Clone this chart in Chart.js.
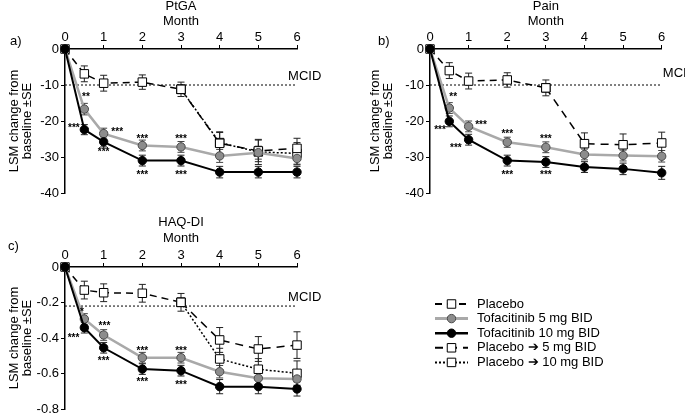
<!DOCTYPE html>
<html lang="en">
<head>
<meta charset="UTF-8" />
<title>PtGA, Pain and HAQ-DI – LSM change from baseline</title>
<script src="https://cdn.jsdelivr.net/npm/chart.js"></script>
<style>
  body { margin: 0; background: #fff; width: 685px; height: 416px; position: relative; overflow: hidden; }
  canvas { position: absolute; }
  #ptga { left: 0; top: 0; }
  #pain { left: 345px; top: 0; }
  #haq { left: 0; top: 205px; }
</style>
</head>
<body>
<canvas id="ptga" width="340" height="205"></canvas>
<canvas id="pain" width="340" height="205"></canvas>
<canvas id="haq" width="685" height="211"></canvas>
<script>
  // months on the x axis
  const months = [0, 0.5, 1, 2, 3, 4, 5, 6];

  // a) PtGA
  const ptgaPlacebo    = [0, -6.9, -9.5, -9.2, -11.2, null, null, null];
  const ptgaPlaceboSe  = [0, 2.2, 2.2, 2.0, 2.0, null, null, null];
  const ptgaPbo5       = [null, null, null, null, -11.2, -26.2, -28.3, -27.6];
  const ptgaPbo5Se     = [null, null, null, null, 0, 3.0, 3.0, 2.8];
  const ptgaPbo10      = [null, null, null, null, -11.2, -26.0, -28.6, -29.0];
  const ptgaPbo10Se    = [null, null, null, null, 0, 3.0, 3.5, 3.0];
  const ptgaTofa5      = [0, -16.7, -23.5, -26.8, -27.2, -29.7, -28.8, -30.4];
  const ptgaTofa5Se    = [0, 1.6, 1.5, 1.5, 1.5, 1.8, 1.8, 1.8];
  const ptgaTofa10     = [0, -22.4, -25.8, -31.0, -31.0, -34.2, -34.2, -34.2];
  const ptgaTofa10Se   = [0, 1.4, 1.4, 1.5, 1.5, 1.6, 1.6, 1.6];
  const ptgaStars = [[0.54, -12.8, '**'], [0.23, -21.3, '***'], [1.35, -22.4, '***'], [1.0, -28, '***'],
                     [2, -24.5, '***'], [3, -24.5, '***'], [2, -34.5, '***'], [3, -34.5, '***']];

  // b) Pain
  const painPlacebo    = [0, -6.0, -8.9, -8.6, -10.8, null, null, null];
  const painPlaceboSe  = [0, 2.2, 2.2, 2.0, 2.2, null, null, null];
  const painPbo5       = [null, null, null, null, -10.8, -26.3, -26.6, -26.1];
  const painPbo5Se     = [null, null, null, null, 0, 3.0, 3.0, 3.0];
  const painTofa5      = [0, -16.4, -21.5, -25.9, -27.3, -29.3, -29.6, -29.8];
  const painTofa5Se    = [0, 1.5, 1.5, 1.4, 1.5, 1.5, 1.5, 1.6];
  const painTofa10     = [0, -20.1, -25.2, -31.0, -31.4, -32.8, -33.3, -34.4];
  const painTofa10Se   = [0, 1.5, 1.5, 1.5, 1.5, 1.5, 1.6, 1.8];
  const painStars = [[0.6, -12.8, '**'], [0.26, -21.8, '***'], [1.32, -20.4, '***'], [0.67, -26.9, '***'],
                     [2, -23, '***'], [3, -24.3, '***'], [2, -34.4, '***'], [3, -34.4, '***']];

  // c) HAQ-DI
  const haqPlacebo     = [0, -0.13, -0.145, -0.148, -0.199, null, null, null];
  const haqPlaceboSe   = [0, 0.05, 0.05, 0.05, 0.05, null, null, null];
  const haqPbo5        = [null, null, null, null, -0.199, -0.411, -0.462, -0.44];
  const haqPbo5Se      = [null, null, null, null, 0, 0.07, 0.07, 0.075];
  const haqPbo10       = [null, null, null, null, -0.199, -0.518, -0.576, -0.599];
  const haqPbo10Se     = [null, null, null, null, 0, 0.06, 0.06, 0.07];
  const haqTofa5       = [0, -0.293, -0.383, -0.511, -0.511, -0.59, -0.627, -0.631];
  const haqTofa5Se     = [0, 0.03, 0.03, 0.03, 0.03, 0.035, 0.035, 0.035];
  const haqTofa10      = [0, -0.342, -0.455, -0.575, -0.584, -0.674, -0.674, -0.687];
  const haqTofa10Se    = [0, 0.03, 0.03, 0.03, 0.03, 0.04, 0.04, 0.04];
  const haqStars = [[0.44, -0.242, '*'], [0.22, -0.39, '***'], [1.02, -0.317, '***'], [1.0, -0.515, '***'],
                    [2, -0.458, '***'], [3, -0.458, '***'], [2, -0.633, '***'], [3, -0.65, '***']];

  const legendLabels = ['Placebo', 'Tofacitinib 5 mg BID', 'Tofacitinib 10 mg BID',
                        'Placebo \u2794 5 mg BID', 'Placebo \u2794 10 mg BID'];

  const F = "'Liberation Sans', Arial, Helvetica, sans-serif";

  const stPlacebo = { label: legendLabels[0], borderColor: '#000', borderWidth: 1.5, borderDash: [7, 5],
    pointStyle: 'rect', pointRadius: 6, pointBackgroundColor: '#fff', pointBorderColor: '#000', pointBorderWidth: 1, order: 2 };
  const stTofa5 = { label: legendLabels[1], borderColor: '#a9a9a9', borderWidth: 2.5,
    pointStyle: 'circle', pointRadius: 4.2, pointBackgroundColor: '#8c8c8c', pointBorderColor: '#4a4a4a', pointBorderWidth: 1, order: 1, barColor: '#444' };
  const stTofa10 = { label: legendLabels[2], borderColor: '#000', borderWidth: 2,
    pointStyle: 'circle', pointRadius: 4.2, pointBackgroundColor: '#000', pointBorderColor: '#000', pointBorderWidth: 1, order: 0 };
  const stPbo5 = { label: legendLabels[3], borderColor: '#000', borderWidth: 1.5, borderDash: [8, 6],
    pointStyle: 'rect', pointRadius: 6, pointBackgroundColor: '#fff', pointBorderColor: '#000', pointBorderWidth: 1, order: 3 };
  const stPbo10 = { label: legendLabels[4], borderColor: '#000', borderWidth: 1.5, borderDash: [2, 2],
    pointStyle: 'rect', pointRadius: 6, pointBackgroundColor: '#fff', pointBorderColor: '#000', pointBorderWidth: 1, order: 4 };

  function series(style, vals, se) {
    const data = [];
    months.forEach((m, i) => { if (vals[i] !== null) data.push({ x: m, y: vals[i], se: se[i] }); });
    return Object.assign({ data, clip: false, tension: 0, fill: false }, style);
  }

  function mcidLine(v) {
    return { data: [{ x: 0, y: v }, { x: 6, y: v }], borderColor: '#000', borderWidth: 1,
      borderDash: [2, 2], pointRadius: 0, clip: false, order: 9, isMcid: true };
  }

  function drawMarker(ctx, ds, x, y) {
    ctx.save();
    ctx.setLineDash([]);
    ctx.fillStyle = ds.pointBackgroundColor;
    ctx.strokeStyle = ds.pointBorderColor;
    ctx.lineWidth = ds.pointBorderWidth || 1;
    ctx.beginPath();
    if (ds.pointStyle === 'rect') {
      const h = ds.pointRadius * Math.SQRT1_2;
      ctx.rect(x - h, y - h, 2 * h, 2 * h);
    } else {
      ctx.arc(x, y, ds.pointRadius, 0, Math.PI * 2);
    }
    ctx.fill();
    ctx.stroke();
    ctx.restore();
  }

  function decor(p) {
    return {
      id: 'decor',
      beforeDatasetsDraw(chart) {
        // error bars (±SE)
        const ctx = chart.ctx, xs = chart.scales.x, ys = chart.scales.y;
        chart.data.datasets.forEach(ds => {
          if (ds.isMcid) return;
          ctx.save();
          ctx.strokeStyle = ds.barColor || '#222';
          ctx.lineWidth = 1;
          ds.data.forEach(pt => {
            if (!pt.se) return;
            const x = xs.getPixelForValue(pt.x);
            const y1 = ys.getPixelForValue(pt.y + pt.se);
            const y2 = ys.getPixelForValue(pt.y - pt.se);
            ctx.beginPath();
            ctx.moveTo(x, y1); ctx.lineTo(x, y2);
            ctx.moveTo(x - 3.5, y1); ctx.lineTo(x + 3.5, y1);
            ctx.moveTo(x - 3.5, y2); ctx.lineTo(x + 3.5, y2);
            ctx.stroke();
          });
          ctx.restore();
        });
      },
      afterDatasetsDraw(chart) {
        const ctx = chart.ctx, xs = chart.scales.x, ys = chart.scales.y, ca = chart.chartArea;
        ctx.save();
        ctx.fillStyle = '#000';
        ctx.font = '13px ' + F;
        ctx.textBaseline = 'middle';
        ctx.textAlign = 'center';
        ctx.fillText(p.title, (ca.left + ca.right) / 2, p.titleY);
        ctx.textAlign = 'left';
        ctx.fillText(p.letter, p.letterX, p.letterY);
        ctx.textBaseline = 'bottom';
        ctx.fillText('MCID', xs.getPixelForValue(p.mcidX), ys.getPixelForValue(p.mcid) - p.mcidGap);

        ctx.font = 'bold 10px ' + F;
        ctx.textAlign = 'center';
        ctx.textBaseline = 'middle';
        p.stars.forEach(s => {
          ctx.fillText(s[2], xs.getPixelForValue(s[0]), ys.getPixelForValue(s[1]) + 2.5);
        });

        if (p.legend) {
          const L = p.legend;
          chart.data.datasets.filter(ds => !ds.isMcid).forEach((ds, i) => {
            const y = L.y0 + i * L.dy;
            ctx.save();
            ctx.strokeStyle = ds.borderColor;
            ctx.lineWidth = ds.borderWidth + 0.5;
            ctx.setLineDash(ds.borderDash || []);
            ctx.beginPath();
            ctx.moveTo(L.x0, y); ctx.lineTo(L.x1, y);
            ctx.stroke();
            ctx.restore();
            drawMarker(ctx, ds, (L.x0 + L.x1) / 2, y);
            ctx.font = '13px ' + F;
            ctx.fillStyle = '#000';
            ctx.textAlign = 'left';
            ctx.textBaseline = 'middle';
            ctx.fillText(ds.label, L.tx, y);
          });
        }
        ctx.restore();
      }
    };
  }

  function panel(id, p) {
    new Chart(document.getElementById(id), {
      type: 'line',
      data: { datasets: p.datasets },
      options: {
        responsive: false,
        animation: false,
        events: [],
        layout: { padding: p.pad },
        plugins: { legend: { display: false }, tooltip: { enabled: false }, title: { display: false } },
        scales: {
          x: {
            type: 'linear', position: 'top', min: 0, max: 6,
            ticks: { stepSize: 1, padding: 0, color: '#000', font: { size: 13, family: F } },
            grid: { display: true, drawOnChartArea: false, drawTicks: true, tickLength: 4, color: '#000', lineWidth: 1 },
            border: { display: true, color: '#000', width: 1.5 },
            title: { display: true, text: 'Month', color: '#000', font: { size: 13, family: F }, padding: { top: 0, bottom: 0 } },
            afterFit(s) { s.height = p.xh; s.paddingLeft = 0; s.paddingRight = 0; s.paddingTop = 0; s.paddingBottom = 0; }
          },
          y: {
            type: 'linear', min: p.ymin, max: 0,
            ticks: { stepSize: p.ystep, padding: 2, color: '#000', font: { size: 13, family: F } },
            grid: { display: true, drawOnChartArea: false, drawTicks: true, tickLength: 4, color: '#000', lineWidth: 1 },
            border: { display: true, color: '#000', width: 1.5 },
            title: { display: true, text: ['LSM change from', 'baseline \u00b1SE'], color: '#000',
                     font: { size: 13, family: F, lineHeight: 1 }, padding: { top: p.ytPad, bottom: 0 } },
            afterFit(s) { s.width = p.yw; s.paddingLeft = 0; s.paddingRight = 0; s.paddingTop = 0; s.paddingBottom = 0; }
          }
        }
      },
      plugins: [decor(p)]
    });
  }

  panel('ptga', {
    title: 'PtGA', titleY: 6, letter: 'a)', letterX: 10, letterY: 41,
    mcid: -10, mcidX: 5.77, mcidGap: 2, stars: ptgaStars,
    ymin: -40, ystep: 10, yw: 65, ytPad: 7.5, xh: 35,
    pad: { left: 0, top: 14, right: 43, bottom: 12 },
    datasets: [
      series(stPlacebo, ptgaPlacebo, ptgaPlaceboSe),
      series(stTofa5, ptgaTofa5, ptgaTofa5Se),
      series(stTofa10, ptgaTofa10, ptgaTofa10Se),
      series(stPbo5, ptgaPbo5, ptgaPbo5Se),
      series(stPbo10, ptgaPbo10, ptgaPbo10Se),
      mcidLine(-10)
    ]
  });

  panel('pain', {
    title: 'Pain', titleY: 6, letter: 'b)', letterX: 33, letterY: 41,
    mcid: -10, mcidX: 6.03, mcidGap: 5, stars: painStars,
    ymin: -40, ystep: 10, yw: 85, ytPad: 23.5, xh: 35,
    pad: { left: 0, top: 14, right: 23.3, bottom: 12 },
    datasets: [
      series(stPlacebo, painPlacebo, painPlaceboSe),
      series(stTofa5, painTofa5, painTofa5Se),
      series(stTofa10, painTofa10, painTofa10Se),
      series(stPbo5, painPbo5, painPbo5Se),
      mcidLine(-10)
    ]
  });

  panel('haq', {
    title: 'HAQ-DI', titleY: 17, letter: 'c)', letterX: 8, letterY: 41,
    mcid: -0.22, mcidX: 5.77, mcidGap: 2, stars: haqStars,
    ymin: -0.8, ystep: 0.2, yw: 65, ytPad: 7.5, xh: 36,
    pad: { left: 0, top: 26, right: 388, bottom: 7 },
    legend: { x0: 435, x1: 468, tx: 477, y0: 99, dy: 14.6 },
    datasets: [
      series(stPlacebo, haqPlacebo, haqPlaceboSe),
      series(stTofa5, haqTofa5, haqTofa5Se),
      series(stTofa10, haqTofa10, haqTofa10Se),
      series(stPbo5, haqPbo5, haqPbo5Se),
      series(stPbo10, haqPbo10, haqPbo10Se),
      mcidLine(-0.22)
    ]
  });
</script>
</body>
</html>
